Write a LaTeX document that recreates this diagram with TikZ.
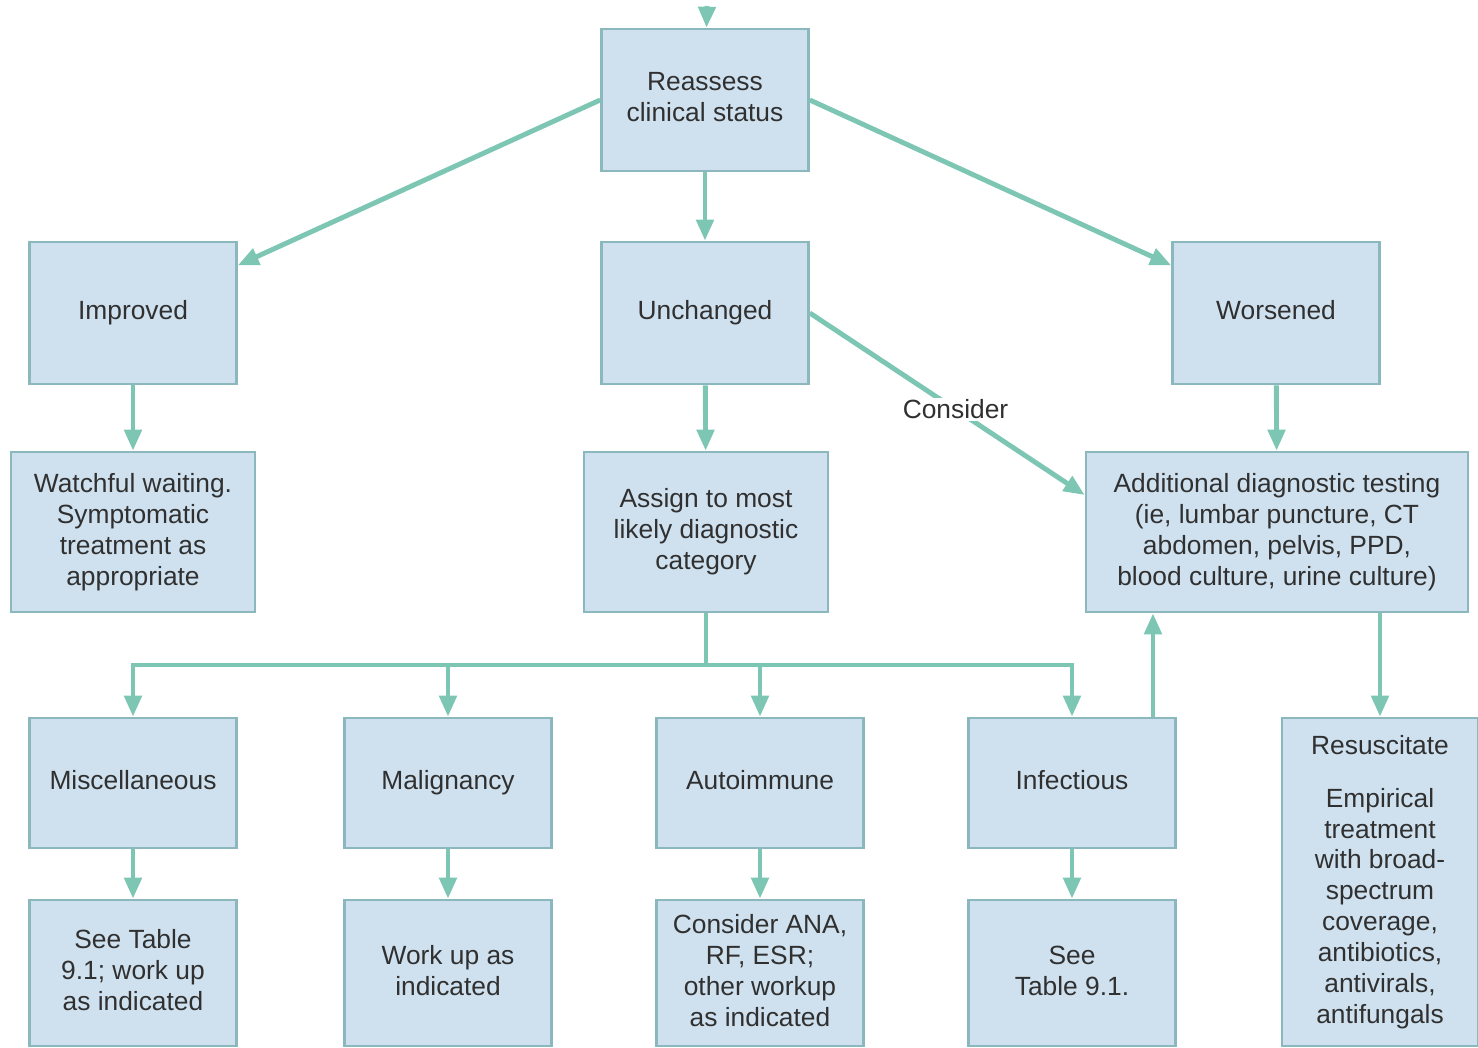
\documentclass[tikz,border=0pt]{standalone}
\usepackage{fontspec}
\setmainfont{Liberation Sans}
\usepackage{xcolor}
\usetikzlibrary{arrows.meta}
\definecolor{boxfill}{RGB}{207,225,239}
\definecolor{boxline}{RGB}{138,184,188}
\definecolor{arrowcol}{RGB}{126,198,180}
\definecolor{txt}{RGB}{48,48,48}
\tikzstyle{block} = [rectangle, draw=boxline, line width=1.5pt, fill=boxfill, text=txt, align=center, inner sep=2pt, text depth=0.3em, font=\fontsize{15}{17.6}\selectfont]
\tikzstyle{main} = [block, minimum width=4.14cm, minimum height=2.84cm]
\tikzstyle{mid} = [block, minimum width=4.88cm, minimum height=3.2cm]
\tikzstyle{cat} = [block, minimum width=4.14cm, minimum height=2.6cm]
\tikzstyle{low} = [block, minimum width=4.14cm, minimum height=2.92cm]
\tikzstyle{line} = [draw=arrowcol, line width=2.8pt, -{Triangle[length=0.42cm,width=0.34cm]}]

\begin{document}
\begin{tikzpicture}[x=0.02cm, y=-0.02cm]
\useasboundingbox (0,0) rectangle (1478,1048);
\node [main] (reassess) at (705,100) {Reassess\\clinical status};
\node [main] (improved) at (133,313) {Improved};
\node [main] (unchanged) at (705,313) {Unchanged};
\node [main] (worsened) at (1276,313) {Worsened};
\coordinate (entry) at (707,6);
\path [line] (entry) -- (reassess);
\path [line] (reassess.west) -- (improved);
\path [line] (reassess) -- (unchanged);
\path [line] (reassess.east) -- (worsened);
\node [mid] (watchful) at (133,532) {Watchful waiting.\\Symptomatic\\treatment as\\appropriate};
\node [mid] (assign) at (706,532) {Assign to most\\likely diagnostic\\category};
\node [mid, minimum width=7.64cm] (additional) at (1277,532) {Additional diagnostic testing\\(ie, lumbar puncture, CT\\abdomen, pelvis, PPD,\\blood culture, urine culture)};
\path [line] (improved) -- (watchful);
\path [line] (unchanged) -- (assign);
\path [line] (worsened) -- (additional);
\path [line] (unchanged.east) -- node [pos=0.53, fill=white, text=txt, inner sep=1pt, font=\fontsize{15}{17.6}\selectfont] (consider) {Consider} ([yshift=7.4mm]additional.west);
\node [cat] (misc) at (133,783) {Miscellaneous};
\node [cat] (malig) at (448,783) {Malignancy};
\node [cat] (autoimm) at (760,783) {Autoimmune};
\node [cat] (infect) at (1072,783) {Infectious};
\node [block, minimum width=3.92cm, minimum height=6.56cm] (resus) at (1380,882) {Resuscitate\\[0.44cm]Empirical\\treatment\\with broad-\\spectrum\\coverage,\\antibiotics,\\antivirals,\\antifungals};
\coordinate (split) at (706,665);
\draw [draw=arrowcol, line width=2.8pt] (assign) -- (split);
\path [line] (split) -| (misc);
\path [line] (split) -| (malig);
\path [line] (split) -| (autoimm);
\path [line] (split) -| (infect);
\path [line] ([xshift=1.62cm]infect.north) -- ([xshift=1.62cm]infect.north |- additional.south);
\path [line] (additional.south -| resus.north) -- (resus);
\node [low] (see-misc) at (133,973) {See Table\\9.1; work up\\as indicated};
\node [low] (workup) at (448,973) {Work up as\\indicated};
\node [low] (ana) at (760,973) {Consider ANA,\\RF, ESR;\\other workup\\as indicated};
\node [low] (see-inf) at (1072,973) {See\\Table 9.1.};
\path [line] (misc) -- (see-misc);
\path [line] (malig) -- (workup);
\path [line] (autoimm) -- (ana);
\path [line] (infect) -- (see-inf);
\end{tikzpicture}
\end{document}
